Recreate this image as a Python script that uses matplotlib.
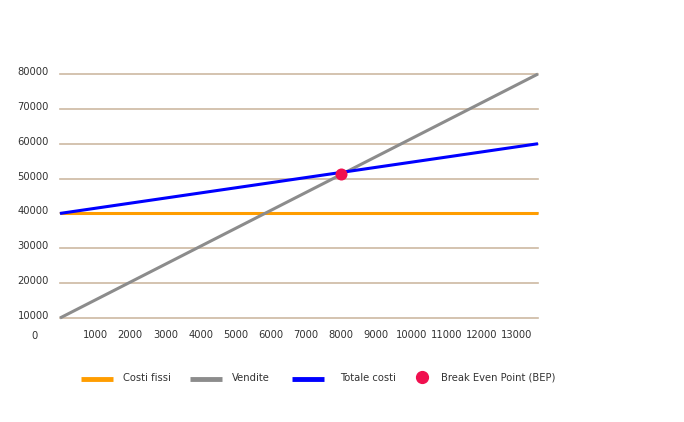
import matplotlib
matplotlib.use("Agg")
import matplotlib.pyplot as plt
from matplotlib.lines import Line2D
import matplotlib.transforms as mtransforms

# Data
x_range = [0, 13600]
costi_fissi = [40000, 40000]
vendite = [10000, 80000]
totale_costi = [40000, 60000]
bep_x = [8000]
bep_y = [51300]
y_ticks = [10000, 20000, 30000, 40000, 50000, 60000, 70000, 80000]
x_ticks = [1000, 2000, 3000, 4000, 5000, 6000, 7000, 8000, 9000, 10000, 11000, 12000, 13000]
legend_labels = ["Costi fissi", "Vendite", "Totale costi", "Break Even Point (BEP)"]

W, H = 684, 422
fig = plt.figure(figsize=(W / 100, H / 100), dpi=100)
plt.rcParams['font.family'] = ['DejaVu Sans']

left, right = 60 / W, 538 / W
bottom, top = 1 - 318 / H, 1 - 74 / H
ax = fig.add_axes([left, bottom, right - left, top - bottom])
ax.set_xlim(0, 13600)
ax.set_ylim(10000, 80000)
for s in ax.spines.values():
    s.set_visible(False)

grid_color = "#cdb9a2"
for yv in y_ticks:
    ax.axhline(yv, color=grid_color, lw=1.2, zorder=1, clip_on=False)

orange = "#ff9d00"
gray = "#8c8c8c"
blue = "#0000ff"
red = "#f0104f"

ax.plot(x_range, costi_fissi, color=orange, lw=2.2, zorder=2, clip_on=False, solid_capstyle='butt')
ax.plot(x_range, vendite, color=gray, lw=2.2, zorder=3, clip_on=False, solid_capstyle='butt')
ax.plot(x_range, totale_costi, color=blue, lw=2.2, zorder=4, clip_on=False, solid_capstyle='butt')
ax.scatter(bep_x, bep_y, s=75, color=red, zorder=5, clip_on=False, linewidths=0)

ax.set_yticks(y_ticks)
ax.set_yticklabels([str(v) for v in y_ticks])
ax.set_xticks(x_ticks)
ax.set_xticklabels([str(v) for v in x_ticks])
ax.tick_params(axis='y', length=0, pad=8, labelsize=7.2, labelcolor="#333333")
ax.tick_params(axis='x', length=0, pad=9, labelsize=7.2, labelcolor="#333333")

offset = mtransforms.ScaledTranslation(0, 3 / 100, fig.dpi_scale_trans)
for lbl in ax.get_yticklabels():
    lbl.set_transform(lbl.get_transform() + offset)

fig.text(34 / W, 1 - 336 / H, "0", fontsize=7.2, color="#333333", ha='center', va='center')

# Legend (manual)
ly = 1 - 379 / H
items = [
    (81, 113, orange, 123),
    (190, 222, gray, 232),
    (292, 324, blue, 340),
]
for (x0, x1, c, tx), lab in zip(items, legend_labels[:3]):
    fig.add_artist(Line2D([x0 / W, x1 / W], [ly, ly], color=c, lw=3.5, transform=fig.transFigure, solid_capstyle='butt'))
    fig.text(tx / W, 1 - 378 / H, lab, fontsize=7.2, color="#333333", ha='left', va='center')
fig.add_artist(Line2D([422 / W], [1 - 377 / H], marker='o', markersize=8.5, color=red, lw=0, transform=fig.transFigure))
fig.text(441 / W, 1 - 378 / H, legend_labels[3], fontsize=7.2, color="#333333", ha='left', va='center')

fig.savefig("out.png", dpi=100)
